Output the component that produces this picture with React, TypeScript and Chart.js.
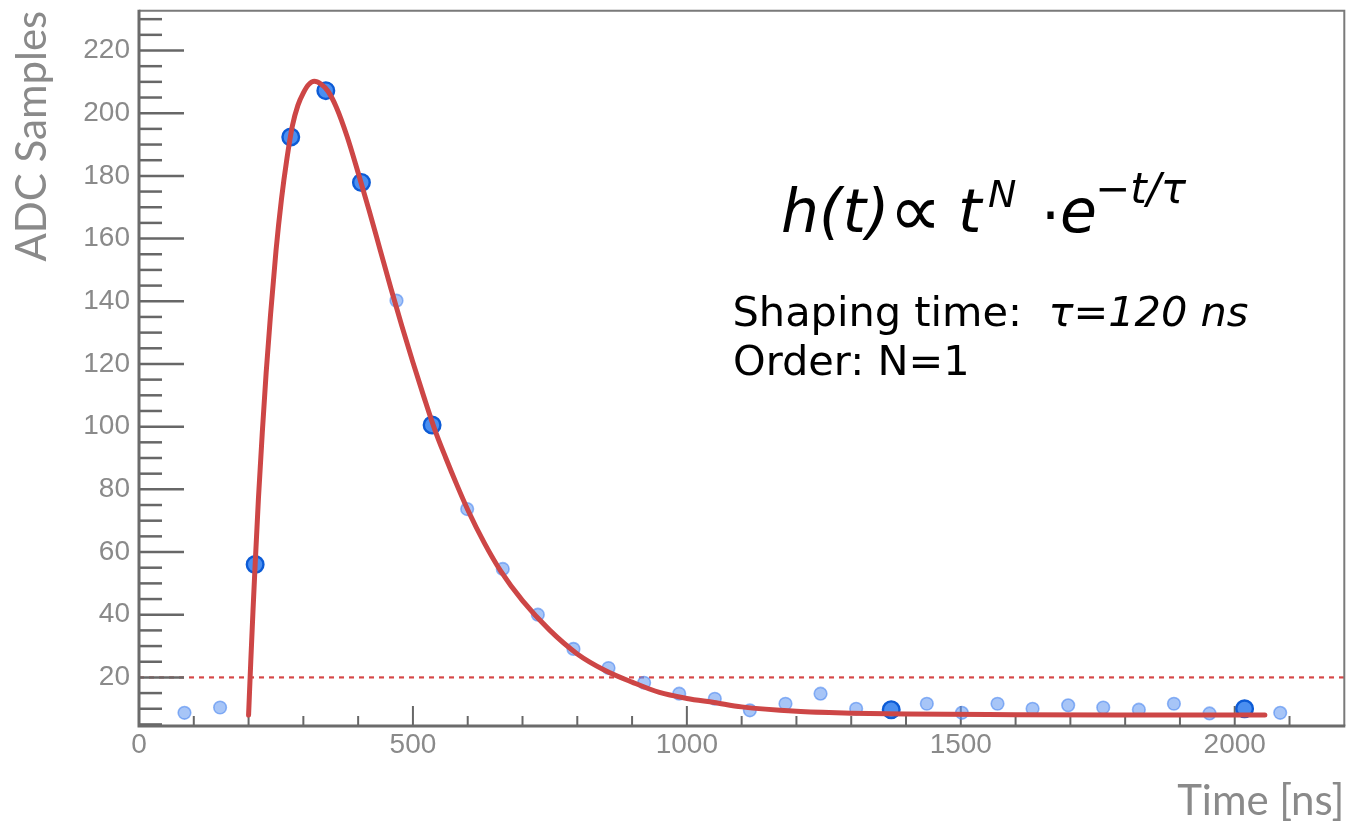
import React, { useEffect, useRef } from "react";
import { Chart, registerables } from "chart.js";

Chart.register(...registerables);

// ---- data ----
// highlighted (selected) ADC samples
const highlightTimes = [212, 277, 341, 406, 535, 1373, 2018];
const highlightValues = [56, 192.4, 207.2, 177.9, 100.5, 9.7, 10.0];

// remaining ADC samples
const otherTimes = [83, 148, 470, 599, 664, 728, 793, 857, 922, 986, 1051, 1115, 1180, 1244, 1309, 1438, 1502, 1567, 1631, 1696, 1760, 1825, 1889, 1954, 2083];
const otherValues = [8.7, 10.4, 140.2, 73.7, 54.6, 40.0, 29.1, 23.0, 18.3, 14.8, 13.2, 9.5, 11.6, 14.8, 10.0, 11.6, 8.7, 11.6, 10.0, 11.1, 10.4, 9.7, 11.6, 8.5, 8.7];

// shaper response curve
const fitTimes = [200, 204, 208, 212, 218, 225, 232, 240, 250, 260, 270, 280, 290, 300, 310, 320, 332, 345, 360, 380, 400, 420, 440, 460, 480, 500, 520, 540, 560, 580, 600, 630, 660, 700, 750, 800, 850, 900, 950, 1000, 1050, 1100, 1200, 1300, 1400, 1600, 1800, 2055];
const fitValues = [8, 25, 41, 56, 77, 98, 117, 135.5, 156, 172.5, 185.5, 196, 202.5, 206.5, 209.2, 210.2, 209.3, 207, 202, 192.5, 181, 169, 156.5, 144, 132, 120.5, 109.5, 99, 90, 81.5, 73.5, 63, 54, 44.5, 35, 27.5, 22.3, 18.5, 15.2, 13.3, 12, 10.6, 9.2, 8.6, 8.3, 8.1, 8, 8];

// threshold level (dotted red line)
const thresholdLevel = 20;

// axis ranges and ticks
const xRange = [0, 2200];
const yRange = [4.5, 232.7];
const xTickValues = [0, 500, 1000, 1500, 2000];
const yTickValues = [20, 40, 60, 80, 100, 120, 140, 160, 180, 200, 220];
const xMinorStep = 100;
const xMajorStep = 500;
const yMinorStep = 5;
const yMajorStep = 20;

const AXIS_GREY = "#8a8a8a";

const decorPlugin = {
  id: "decor",
  beforeDatasetsDraw(chart: any) {
    const { ctx, chartArea: a, scales } = chart;
    const xs = scales.x;
    const ys = scales.y;
    ctx.save();

    // threshold dotted line
    const ty = ys.getPixelForValue(thresholdLevel);
    ctx.strokeStyle = "#d64848";
    ctx.lineWidth = 2.2;
    ctx.setLineDash([5, 5]);
    ctx.beginPath();
    ctx.moveTo(a.left, ty);
    ctx.lineTo(a.right, ty);
    ctx.stroke();
    ctx.setLineDash([]);

    // top / right frame
    ctx.strokeStyle = "#7a7a7a";
    ctx.lineWidth = 2;
    ctx.beginPath();
    ctx.moveTo(a.left, a.top);
    ctx.lineTo(a.right, a.top);
    ctx.lineTo(a.right, a.bottom);
    ctx.stroke();

    // y ticks (inside)
    ctx.strokeStyle = "#676767";
    ctx.lineWidth = 2.5;
    for (let v = yMinorStep; v <= ys.max; v += yMinorStep) {
      if (v < ys.min) continue;
      const p = ys.getPixelForValue(v);
      const len = v % yMajorStep === 0 ? 45 : 23;
      ctx.beginPath();
      ctx.moveTo(a.left, p);
      ctx.lineTo(a.left + len, p);
      ctx.stroke();
    }
    // x ticks (inside)
    ctx.lineWidth = 2;
    for (let v = xMinorStep; v < xs.max; v += xMinorStep) {
      const p = xs.getPixelForValue(v);
      const len = v % xMajorStep === 0 ? 20 : 10;
      ctx.beginPath();
      ctx.moveTo(p, a.bottom);
      ctx.lineTo(p, a.bottom - len);
      ctx.stroke();
    }

    // axis lines
    ctx.strokeStyle = "#6b6b6b";
    ctx.lineWidth = 3;
    ctx.beginPath();
    ctx.moveTo(a.left, a.top - 1);
    ctx.lineTo(a.left, a.bottom);
    ctx.lineTo(a.right + 1, a.bottom);
    ctx.stroke();
    ctx.restore();
  },
  afterDraw(chart: any) {
    const { ctx } = chart;
    ctx.save();
    ctx.fillStyle = "#000";
    ctx.textBaseline = "alphabetic";
    ctx.textAlign = "left";
    const fam = '"DejaVu Sans"';
    // formula h(t) ∝ t^N · e^(−t/τ)
    ctx.font = `italic 60px ${fam}`;
    ctx.fillText("h(t)", 781, 232);
    ctx.font = `74px ${fam}`;
    ctx.fillText("∝", 889, 236);
    ctx.font = `italic 60px ${fam}`;
    ctx.fillText("t", 958, 232);
    ctx.font = `italic 38px ${fam}`;
    ctx.fillText("N", 988, 207);
    ctx.font = `60px ${fam}`;
    ctx.fillText("·", 1041, 236);
    ctx.font = `italic 60px ${fam}`;
    ctx.fillText("e", 1060, 232);
    ctx.font = `italic 42px ${fam}`;
    ctx.fillText("−t/τ", 1095, 203);

    // parameters
    ctx.font = `41.5px ${fam}`;
    const lead = "Shaping time:  ";
    ctx.fillText(lead, 732.5, 326);
    const w = ctx.measureText(lead).width;
    ctx.font = `italic 41.5px ${fam}`;
    ctx.fillText("τ=120 ns", 732.5 + w, 326);
    ctx.font = `41.5px ${fam}`;
    ctx.fillText("Order: N=1", 733, 375);
    ctx.restore();
  },
};

export default function App() {
  const canvasRef = useRef<HTMLCanvasElement | null>(null);

  useEffect(() => {
    const canvas = canvasRef.current;
    if (!canvas) return;
    const toXY = (xs: number[], ys: number[]) => xs.map((x, i) => ({ x, y: ys[i] }));

    const chart = new Chart(canvas, {
      type: "scatter",
      data: {
        datasets: [
          {
            label: "Shaper response",
            data: toXY(fitTimes, fitValues),
            showLine: true,
            borderColor: "#cd4646",
            backgroundColor: "#cd4646",
            borderWidth: 5,
            borderCapStyle: "round",
            pointRadius: 0,
            pointHoverRadius: 0,
            cubicInterpolationMode: "monotone",
          } as any,
          {
            label: "Selected samples",
            data: toXY(highlightTimes, highlightValues),
            pointRadius: 8.3,
            pointHoverRadius: 8.3,
            pointBorderWidth: 2.4,
            backgroundColor: "#4b8ff0",
            borderColor: "#0c5bd6",
          },
          {
            label: "ADC samples",
            data: toXY(otherTimes, otherValues),
            pointRadius: 6.3,
            pointHoverRadius: 6.3,
            pointBorderWidth: 1.6,
            backgroundColor: "rgba(95,150,240,0.55)",
            borderColor: "rgba(75,135,240,0.6)",
          },
        ],
      },
      options: {
        animation: false,
        responsive: false,
        devicePixelRatio: 1,
        layout: { padding: { top: 8, right: 6, left: 0, bottom: 0 } },
        plugins: {
          legend: { display: false },
          tooltip: { enabled: false },
        },
        scales: {
          x: {
            type: "linear",
            min: xRange[0],
            max: xRange[1],
            afterBuildTicks: (s: any) => {
              s.ticks = xTickValues.map((value) => ({ value }));
            },
            afterFit: (s: any) => {
              s.height = 98;
              s.paddingLeft = 0;
              s.paddingRight = 0;
              s.paddingTop = 0;
              s.paddingBottom = 0;
            },
            grid: { display: false, drawTicks: false },
            border: { display: false },
            ticks: {
              padding: 2,
              color: AXIS_GREY,
              autoSkip: false,
              maxRotation: 0,
              callback: (v: any) => String(v),
              font: { family: '"Liberation Sans", Arial, sans-serif', size: 28 },
            },
            title: {
              display: true,
              text: "Time [ns]",
              align: "end",
              color: AXIS_GREY,
              font: { family: "Lato, sans-serif", size: 42, lineHeight: 1 },
              padding: { top: 0, bottom: 2 },
            },
          },
          y: {
            type: "linear",
            min: yRange[0],
            max: yRange[1],
            afterBuildTicks: (s: any) => {
              s.ticks = yTickValues.map((value) => ({ value }));
            },
            afterFit: (s: any) => {
              s.width = 139;
              s.paddingLeft = 0;
              s.paddingRight = 0;
              s.paddingTop = 0;
              s.paddingBottom = 0;
            },
            grid: { display: false, drawTicks: false },
            border: { display: false },
            ticks: {
              padding: 9,
              color: AXIS_GREY,
              autoSkip: false,
              callback: (v: any) => String(v),
              font: { family: '"Liberation Sans", Arial, sans-serif', size: 28 },
            },
            title: {
              display: true,
              text: "ADC Samples",
              align: "end",
              color: AXIS_GREY,
              font: { family: "Lato, sans-serif", size: 42, lineHeight: 1 },
              padding: { top: 11, bottom: 0 },
            },
          },
        },
      },
      plugins: [decorPlugin],
    });

    return () => {
      chart.destroy();
    };
  }, []);

  return (
    <div style={{ position: "absolute", left: 0, top: 0, width: 1355, height: 824, background: "#fff" }}>
      <canvas ref={canvasRef} width={1355} height={824} style={{ display: "block", width: 1355, height: 824 }} />
    </div>
  );
}
